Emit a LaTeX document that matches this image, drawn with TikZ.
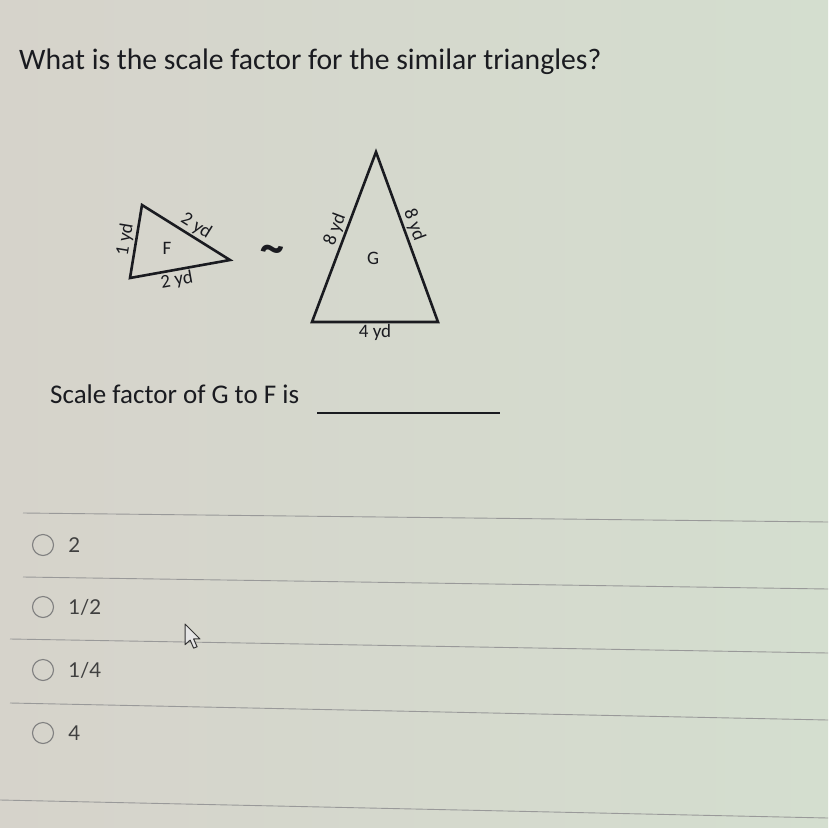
\documentclass[tikz,border=0pt]{standalone}
\usepackage{fontspec}
\setmainfont{Carlito}
\newfontfamily\answerfont{Lato}
\usetikzlibrary{positioning}
\definecolor{bgleft}{RGB}{214,211,203}
\definecolor{bgright}{RGB}{212,222,207}
\definecolor{ink}{RGB}{26,27,32}

\begin{document}
\begin{tikzpicture}[
    x=1pt, y=-1pt,
    node distance=13pt,
    every node/.style={inner sep=1pt, text=ink},
    question/.style={font=\fontsize{29.7}{34}\selectfont, anchor=base west},
    side/.style={draw=ink, line width=2.6pt, line join=miter},
    sidelabel/.style={font=\fontsize{19}{22}\selectfont, sloped, inner sep=2.5pt},
    trilabel/.style={font=\fontsize{19}{22}\selectfont},
    radio/.style={draw=black!50, line width=1.1pt, circle, minimum size=21pt, inner sep=0pt},
    answer/.style={font=\answerfont\fontsize{20.5}{24}\selectfont, text=black!75, text height=14pt, text depth=0pt, anchor=west},
    rule/.style={draw=black!40, line width=0.9pt},
    pointer/.style={draw=black!80, fill=white!90!black, line width=1pt, line join=round}
]
\shade[left color=bgleft, right color=bgright] (0,0) rectangle (828,828);
\useasboundingbox (0,0) rectangle (828,828);

\node[question] (title) at (18,69) {What is the scale factor for the similar triangles?};

\coordinate (F1) at (142,205);
\coordinate (F2) at (230,260);
\coordinate (F3) at (130,278);
\draw[side] (F1) -- (F2) -- (F3) -- cycle;
\path (F3) -- (F1) node[sidelabel, midway, above] {1 yd};
\path (F1) -- (F2) node[sidelabel, pos=0.55, above] {2 yd};
\path (F3) -- (F2) node[sidelabel, pos=0.45, below] {2 yd};
\node[trilabel] (F) at (167,248) {F};

\node[font=\fontsize{46}{48}\selectfont\bfseries, rotate=-12] (sim) at (271,254) {\textasciitilde};

\coordinate (G1) at (376,152);
\coordinate (G2) at (438,322);
\coordinate (G3) at (312,322);
\draw[side] (G1) -- (G2) -- (G3) -- cycle;
\path (G3) -- (G1) node[sidelabel, pos=0.52, above] {8 yd};
\path (G1) -- (G2) node[sidelabel, pos=0.45, above] {8 yd};
\path (G3) -- (G2) node[sidelabel, midway, below] {4 yd};
\node[trilabel] (G) at (373,258) {G};

\node[question, font=\fontsize{27}{32}\selectfont] (ask) at (49,403) {Scale factor of G to F is};
\coordinate (blank1) at (317,413);
\coordinate (blank2) at (500,413);
\draw[draw=ink, line width=2.4pt] (blank1) -- (blank2);

\draw[rule] (23,513) -- (828,522);
\draw[rule] (23,577) -- (828,589);
\draw[rule] (10,639) -- (828,653);
\draw[rule] (10,703) -- (828,720);
\draw[rule] (0,800) -- (828,818);

\node[radio] (o1) at (43,545) {};
\node[radio] (o2) at (43,607) {};
\node[radio] (o3) at (43,670) {};
\node[radio] (o4) at (43,733) {};
\node[answer, right=of o1] (a1) {2};
\node[answer, right=of o2] (a2) {1/2};
\node[answer, right=of o3] (a3) {1/4};
\node[answer, right=of o4] (a4) {4};

\draw[pointer, shift={(185,624)}, scale=1.15] (0,0) -- (0,18) -- (4.5,14) -- (7.5,21) -- (10.5,19.8) -- (7.5,13) -- (13,13) -- cycle;
\end{tikzpicture}
\end{document}
